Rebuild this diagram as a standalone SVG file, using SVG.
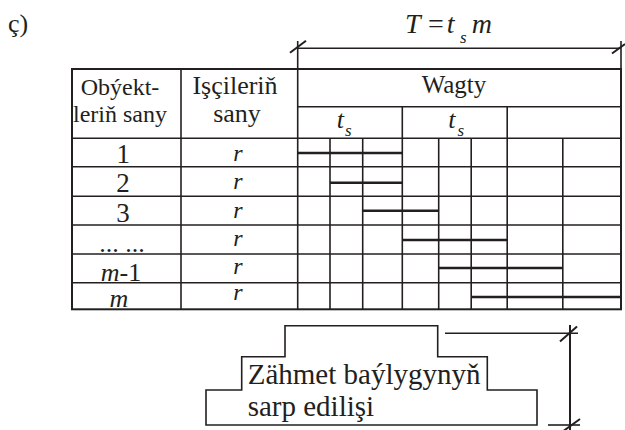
<svg xmlns="http://www.w3.org/2000/svg" width="625" height="430" viewBox="0 0 625 430" font-family="'Liberation Serif', 'Times New Roman', 'DejaVu Serif', serif">
<style>
  .ln{stroke:#231f20;stroke-width:1.6;fill:none;stroke-linecap:butt}
  .bd{stroke:#231f20;stroke-width:2;fill:none}
  .bar{stroke:#231f20;stroke-width:2.4;fill:none}
  text{font-family:'Liberation Serif','Times New Roman','DejaVu Serif',serif;fill:#231f20}
  .i{font-style:italic}
  .c{text-anchor:middle}
</style>
<rect width="625" height="430" fill="#ffffff"/>

<g id="label-c">
  <text x="8" y="32" font-size="26">ç)</text>
</g>

<g id="formula">
  <text class="i" x="405" y="33.3" font-size="28">T</text>
  <text x="428" y="33.3" font-size="28">=</text>
  <text class="i" x="446.7" y="33.3" font-size="28">t</text>
  <text class="i" x="460" y="43.3" font-size="17">s</text>
  <text class="i" x="471.7" y="33.3" font-size="28">m</text>
</g>

<g id="connectors">
  <line class="ln" x1="297.7" y1="48.3" x2="621" y2="48.3"/>
  <line class="ln" x1="297.7" y1="41" x2="297.7" y2="69"/>
  <line class="ln" x1="621" y1="41" x2="621" y2="69"/>
  <line class="bd" x1="290" y1="52.8" x2="306" y2="40.8"/>
  <line class="bd" x1="612" y1="53.5" x2="625" y2="44"/>
  <line class="ln" x1="445" y1="333.3" x2="578" y2="333.3"/>
  <line class="ln" x1="548" y1="425" x2="580" y2="425"/>
  <line class="bd" x1="570" y1="325" x2="570" y2="430"/>
  <line class="bd" x1="560" y1="341.5" x2="577" y2="326.5"/>
  <line class="bd" x1="562" y1="432" x2="580" y2="419"/>
</g>

<g id="table">
  <rect class="bd" x="72" y="69" width="549" height="240.3"/>
  <line class="ln" x1="181" y1="69" x2="181" y2="309.3"/>
  <line class="ln" x1="297.7" y1="69" x2="297.7" y2="309.3"/>
  <line class="ln" x1="297.7" y1="106.7" x2="621" y2="106.7"/>
  <line class="ln" x1="72" y1="138.3" x2="621" y2="138.3"/>
  <line class="ln" x1="402.3" y1="106.7" x2="402.3" y2="309.3"/>
  <line class="ln" x1="507.2" y1="106.7" x2="507.2" y2="309.3"/>
  <line class="ln" x1="330" y1="138.3" x2="330" y2="309.3"/>
  <line class="ln" x1="362.7" y1="138.3" x2="362.7" y2="309.3"/>
  <line class="ln" x1="438.7" y1="138.3" x2="438.7" y2="309.3"/>
  <line class="ln" x1="471.2" y1="138.3" x2="471.2" y2="309.3"/>
  <line class="ln" x1="562.8" y1="138.3" x2="562.8" y2="309.3"/>
  <line class="ln" x1="72" y1="166.8" x2="621" y2="166.8"/>
  <line class="ln" x1="72" y1="196.3" x2="621" y2="196.3"/>
  <line class="ln" x1="72" y1="225" x2="621" y2="225"/>
  <line class="ln" x1="72" y1="254" x2="621" y2="254"/>
  <line class="ln" x1="72" y1="282.7" x2="621" y2="282.7"/>
</g>

<g id="bars">
  <line class="bar" x1="297.7" y1="153" x2="402.3" y2="153"/>
  <line class="bar" x1="330" y1="182.7" x2="402.3" y2="182.7"/>
  <line class="bar" x1="362.7" y1="210.7" x2="438.7" y2="210.7"/>
  <line class="bar" x1="402.3" y1="240" x2="507.2" y2="240"/>
  <line class="bar" x1="438.7" y1="268" x2="562.8" y2="268"/>
  <line class="bar" x1="471.2" y1="297" x2="621" y2="297"/>
</g>

<g id="header">
  <text class="c" x="120" y="94.5" font-size="24">Obýekt-</text>
  <text class="c" x="120" y="121.5" font-size="24">leriň sany</text>
  <text class="c" x="235" y="94" font-size="26">Işçileriň</text>
  <text class="c" x="237" y="121.5" font-size="26">sany</text>
  <text class="c" x="454" y="93.3" font-size="25">Wagty</text>
  <text class="i" x="336.7" y="128.3" font-size="26">t</text>
  <text class="i" x="345" y="136" font-size="17">s</text>
  <text class="i" x="448.3" y="128.3" font-size="26">t</text>
  <text class="i" x="457.5" y="136" font-size="17">s</text>
</g>

<g id="rows">
  <text class="c" x="123.3" y="162.7" font-size="27">1</text>
  <text class="c" x="123" y="192.3" font-size="27">2</text>
  <text class="c" x="123" y="222" font-size="27">3</text>
  <text class="c" x="122" y="252" font-size="26">... ...</text>
  <text x="100.7" y="280.7" font-size="26"><tspan font-style="italic">m</tspan>-1</text>
  <text class="i c" x="119" y="307.3" font-size="26">m</text>
  <text class="i c" x="238" y="161" font-size="24">r</text>
  <text class="i c" x="238" y="189" font-size="24">r</text>
  <text class="i c" x="238" y="218" font-size="24">r</text>
  <text class="i c" x="238" y="246" font-size="24">r</text>
  <text class="i c" x="238" y="274" font-size="24">r</text>
  <text class="i c" x="238" y="300" font-size="24">r</text>
</g>

<g id="staircase">
  <polygon class="ln" points="206,425 206,390 241.7,390 241.7,356.7 285,356.7 285,325.7 437.7,325.7 437.7,356.7 487.3,356.7 487.3,390 537,390 537,425"/>
  <text x="247.7" y="384" font-size="29">Zähmet baýlygynyň</text>
  <text x="247.7" y="416" font-size="29">sarp edilişi</text>
</g>
</svg>
